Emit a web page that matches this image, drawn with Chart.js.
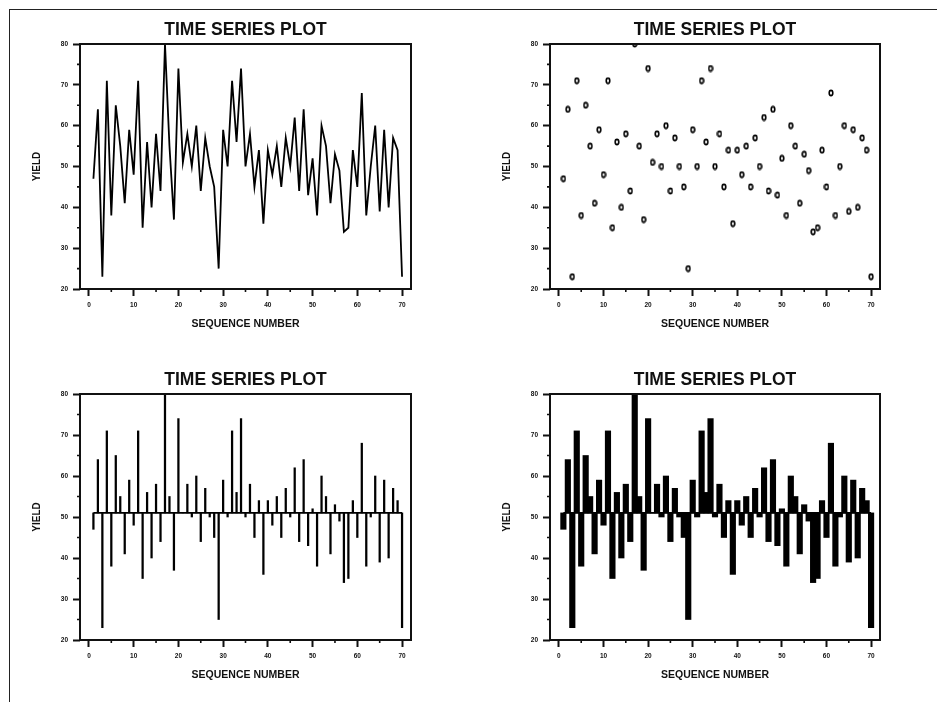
<!DOCTYPE html>
<html>
<head>
<meta charset="utf-8">
<script src="https://cdn.jsdelivr.net/npm/chart.js@4.4.1/dist/chart.umd.min.js"></script>
<style>
  html, body { margin: 0; padding: 0; background: #fff; }
  body { width: 937px; height: 702px; position: relative; overflow: hidden; }
  #frame { position: absolute; left: 9px; top: 9px; width: 940px; height: 700px;
           border-left: 1.5px solid #222; border-top: 1.5px solid #222; }
  canvas { position: absolute; }
</style>
</head>
<body>
<div id="frame"></div>
<canvas id="linePlot" width="396" height="324" style="left:20px;top:10px"></canvas>
<canvas id="dotPlot" width="395" height="324" style="left:490px;top:10px"></canvas>
<canvas id="spikePlot" width="396" height="325" style="left:20px;top:360px"></canvas>
<canvas id="barPlot" width="395" height="325" style="left:490px;top:360px"></canvas>
<script>
// Yield readings, one per batch (sequence 1..70)
const yieldValues = [
    47, 64, 23, 71, 38, 65, 55, 41, 59, 48,
    71, 35, 56, 40, 58, 44, 80, 55, 37, 74,
    51, 58, 50, 60, 44, 57, 50, 45, 25, 59,
    50, 71, 56, 74, 50, 58, 45, 54, 36, 54,
    48, 55, 45, 57, 50, 62, 44, 64, 43, 52,
    38, 60, 55, 41, 53, 49, 34, 35, 54, 45,
    68, 38, 50, 60, 39, 59, 40, 57, 54, 23
];
const seqNumbers = yieldValues.map((v, i) => i + 1);
const refLevel = 51;            // baseline the spikes / bars hang from
const xMinorTicks = [5, 15, 25, 35, 45, 55, 65];
const yMinorTicks = [25, 35, 45, 55, 65, 75];
const plotTitle = 'TIME SERIES PLOT';
const xTitle = 'SEQUENCE NUMBER';
const yTitle = 'YIELD';

const FONT = '"Liberation Sans", Arial, sans-serif';
const INK = '#111';

const points = seqNumbers.map((x, i) => ({ x: x, y: yieldValues[i] }));
const spans = seqNumbers.map((x, i) => ({ x: x, y: [refLevel, yieldValues[i]] }));
const refLine = [
    { x: seqNumbers[0], y: refLevel },
    { x: seqNumbers[seqNumbers.length - 1], y: refLevel }
];

// little "o" marker used by the dot plot
function makeMarker() {
    const c = document.createElement('canvas');
    c.width = 6; c.height = 8;
    const g = c.getContext('2d');
    g.fillStyle = '#fff';
    g.strokeStyle = '#000';
    g.lineWidth = 1.6;
    g.beginPath();
    g.ellipse(3, 4, 1.8, 2.6, 0, 0, Math.PI * 2);
    g.fill();
    g.stroke();
    return c;
}

// box around the plot area plus the short minor ticks
const boxPlugin = {
    id: 'boxPlugin',
    afterDraw(chart) {
        const { ctx, chartArea: a, scales } = chart;
        ctx.save();
        ctx.strokeStyle = INK;
        ctx.lineWidth = 2;
        ctx.strokeRect(a.left, a.top, a.right - a.left, a.bottom - a.top);
        ctx.lineWidth = 1.6;
        ctx.beginPath();
        xMinorTicks.forEach(v => {
            const px = scales.x.getPixelForValue(v);
            ctx.moveTo(px, a.bottom);
            ctx.lineTo(px, a.bottom + 3);
        });
        yMinorTicks.forEach(v => {
            const py = scales.y.getPixelForValue(v);
            ctx.moveTo(a.left - 3, py);
            ctx.lineTo(a.left, py);
        });
        ctx.stroke();
        ctx.restore();
    }
};

function baseOptions() {
    const tickFont = { family: FONT, size: 6.5, weight: 'bold' };
    return {
        responsive: false,
        animation: false,
        layout: { padding: { left: 0, right: 5, top: 0, bottom: 0 } },
        plugins: {
            legend: { display: false },
            tooltip: { enabled: false },
            title: {
                display: true,
                fullSize: false,   // centre the title over the plot box
                text: plotTitle,
                color: INK,
                font: { family: FONT, size: 17.5, weight: 'bold' },
                padding: { top: 10, bottom: 3 }
            }
        },
        scales: {
            x: {
                type: 'linear',
                min: -2,
                max: 72,
                offset: false,
                border: { display: false },
                grid: { display: true, offset: false, drawOnChartArea: false, drawTicks: true,
                        tickLength: 7, tickWidth: 2, tickColor: INK },
                ticks: { stepSize: 10, includeBounds: false, padding: 5, color: INK,
                         maxRotation: 0, font: tickFont },
                title: { display: true, text: xTitle, color: INK,
                         font: { family: FONT, size: 10.5, weight: 'bold' },
                         padding: { top: 0, bottom: 3.7 } },
                afterFit(scale) { scale.height = 45; }
            },
            y: {
                type: 'linear',
                min: 20,
                max: 80,
                border: { display: false },
                grid: { display: true, drawOnChartArea: false, drawTicks: true,
                        tickLength: 7, tickWidth: 2, tickColor: INK },
                ticks: { stepSize: 10, includeBounds: false, padding: 5, color: INK, font: tickFont },
                title: { display: true, text: yTitle, color: INK,
                         font: { family: FONT, size: 10, weight: 'bold' },
                         padding: { top: 11.5, bottom: 0 } },
                afterFit(scale) { scale.width = 60; }
            }
        }
    };
}

// top left: connected line
new Chart(document.getElementById('linePlot'), {
    type: 'line',
    data: {
        datasets: [{
            data: points,
            borderColor: '#000',
            borderWidth: 1.8,
            pointRadius: 0,
            tension: 0
        }]
    },
    options: baseOptions(),
    plugins: [boxPlugin]
});

// top right: points only
new Chart(document.getElementById('dotPlot'), {
    type: 'scatter',
    data: {
        datasets: [{
            data: points,
            pointStyle: makeMarker(),
            pointRadius: 3
        }]
    },
    options: baseOptions(),
    plugins: [boxPlugin]
});

// bottom left: thin spikes from the reference level
new Chart(document.getElementById('spikePlot'), {
    type: 'bar',
    data: {
        datasets: [
            {
                data: spans,
                backgroundColor: '#000',
                borderWidth: 0,
                barThickness: 1.6
            },
            {
                type: 'line',
                data: refLine,
                borderColor: '#000',
                borderWidth: 1.6,
                pointRadius: 0
            }
        ]
    },
    options: baseOptions(),
    plugins: [boxPlugin]
});

// bottom right: wide bars from the reference level
new Chart(document.getElementById('barPlot'), {
    type: 'bar',
    data: {
        datasets: [
            {
                data: spans,
                backgroundColor: '#000',
                borderWidth: 0,
                barThickness: 5.5
            },
            {
                type: 'line',
                data: refLine,
                borderColor: '#000',
                borderWidth: 1.6,
                pointRadius: 0
            }
        ]
    },
    options: baseOptions(),
    plugins: [boxPlugin]
});
</script>
</body>
</html>
